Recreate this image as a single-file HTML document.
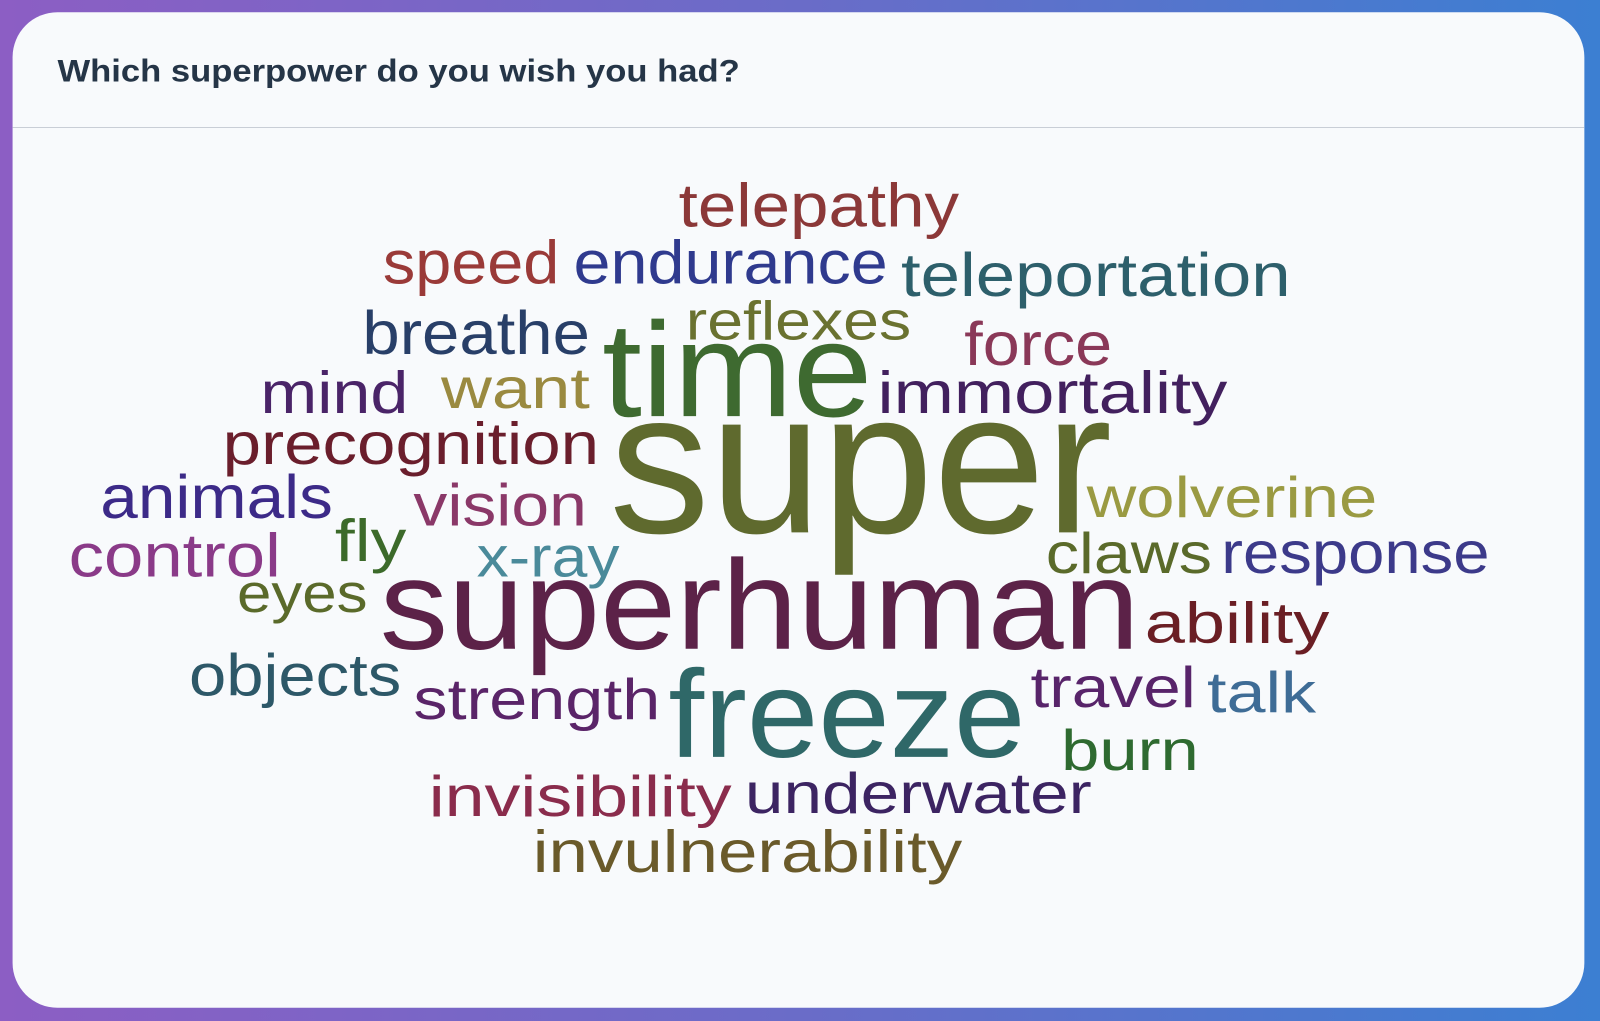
<!DOCTYPE html>
<html><head><meta charset="utf-8"><style>
html,body{margin:0;padding:0;width:1600px;height:1021px;overflow:hidden}
body{background:linear-gradient(90deg,#8c5ec4 0%,#6a6cc8 50%,#3c7fd2 100%)}
svg{position:absolute;left:0;top:0}
</style></head><body>
<svg id="cloud" width="1600" height="1021" viewBox="0 0 1568 1001">
<rect x="12" y="12" width="1541" height="976" rx="44" fill="#f8fafc"/>
<text x="56" y="80" textLength="669" lengthAdjust="spacingAndGlyphs" font-family="Liberation Sans, sans-serif" font-weight="bold" font-size="31" fill="#253547">Which superpower do you wish you had?</text>
<rect x="12" y="124.5" width="1541" height="1" fill="#c9ced6"/>
</svg>
<script>
const words=["telepathy","speed","endurance","teleportation","breathe","reflexes","time","force","mind","want","immortality","precognition","super","animals","vision","fly","wolverine","control","x-ray","claws","response","eyes","superhuman","ability","objects","strength","freeze","travel","talk","burn","invisibility","underwater","invulnerability"];
const sizes=[60,60,60,60,60,54,132,60,58,56,58,58,200,60,58,58,56,60,56,56,58,54,125,56,58,56,122,56,56,56,56,56,58];
const colors=["#8b3838","#9a3a38","#2f3a8e","#2d5f6b","#283f68","#6a7230","#3e6a30","#8a3858","#4a2468","#9a8a40","#42205e","#6a1e2c","#5f6a2e","#3c2a88","#8a3868","#3c6a2a","#9a9a42","#8a3a88","#4a8a9a","#5a6a2a","#3c3a8a","#5a6a2a","#5c2248","#6a1e24","#2d5868","#5a2468","#2f6868","#58246a","#3e6c96","#2e6a30","#8a2c4c","#3c2462","#6a5a2a"];
// layout (left x, baseline y, width)
const layout=[[665,222,275],[375,278,173],[562,278,308],[883,290,382],[355,347,223],[672,333,221],[590,408,265],[945,358,145],[255,405,145],[432,400,146],[860,405,343],[218,455,369],[597,522,493],[98,508,228],[405,515,170],[328,550,70],[1065,507,285],[67,565,208],[467,565,140],[1025,562,163],[1197,562,263],[232,600,128],[372,636,745],[1122,630,181],[185,682,208],[405,705,242],[655,742,350],[1010,693,162],[1183,698,107],[1040,755,135],[420,800,297],[730,797,340],[522,855,421]];
const svg=document.getElementById('cloud');
words.forEach((w,i)=>{
  const t=document.createElementNS('http://www.w3.org/2000/svg','text');
  
  
  t.setAttribute('x',layout[i][0]);
  t.setAttribute('y',layout[i][1]);
  t.setAttribute('textLength',layout[i][2]);
  t.setAttribute('lengthAdjust','spacingAndGlyphs');
  t.setAttribute('font-family','Liberation Sans, DejaVu Sans, sans-serif');
  t.setAttribute('font-size',sizes[i]);
  t.setAttribute('fill',colors[i]);
  t.textContent=w;
  svg.appendChild(t);
});
</script>
</body></html>
